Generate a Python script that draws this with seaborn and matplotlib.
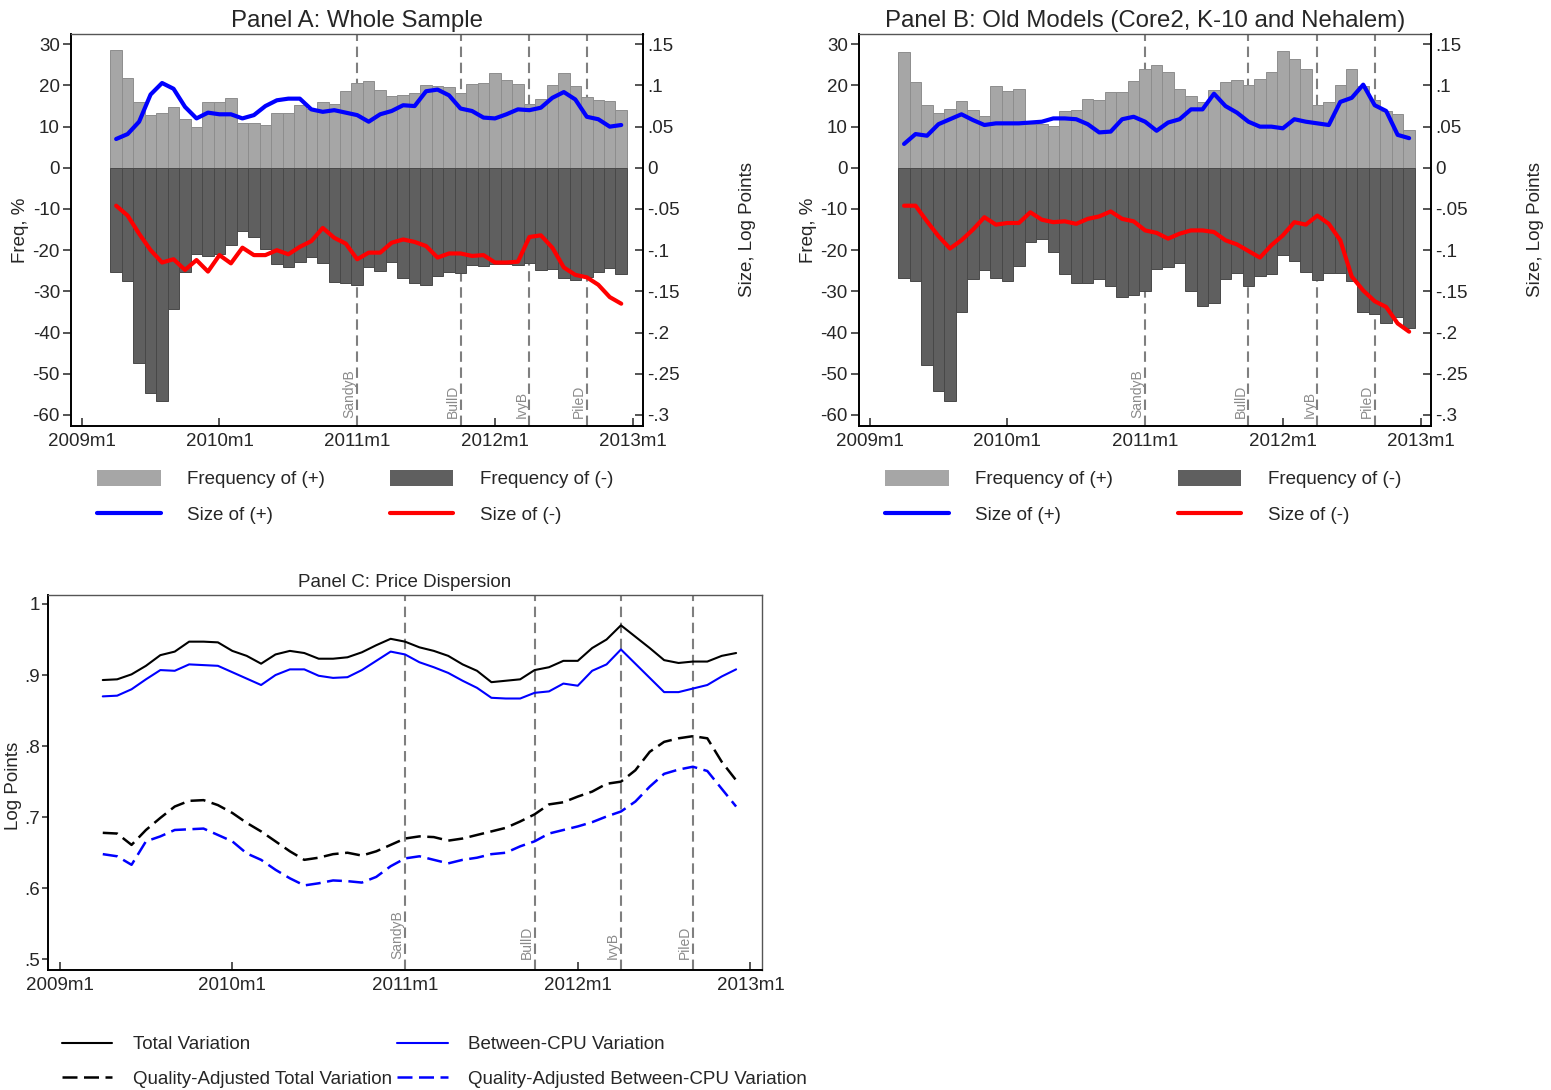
import numpy as np
import pandas as pd
import matplotlib
matplotlib.use('Agg')
import matplotlib.pyplot as plt
import matplotlib.transforms as mtransforms
from matplotlib.patches import Patch
from matplotlib.lines import Line2D
import seaborn as sns

# ---- data -------------------------------------------------------------
month_labels = pd.period_range('2009-04', '2012-12', freq='M')

year_ticks = ['2009-01', '2010-01', '2011-01', '2012-01', '2013-01']
year_tick_labels = ['2009m1', '2010m1', '2011m1', '2012m1', '2013m1']

events = ['SandyB', 'BullD', 'IvyB', 'PileD']
event_dates = ['2011-01', '2011-10', '2012-04', '2012-09']

# Panel A: whole sample
freq_pos_a = [28.6, 21.8, 16.1, 12.9, 13.3, 14.7, 11.9, 10.0, 16.0, 16.1,
              17.0, 10.8, 10.8, 10.3, 13.3, 13.3, 15.2, 14.3, 16.1, 15.6,
              18.6, 20.5, 21.1, 18.8, 17.4, 17.7, 18.2, 20.2, 19.8, 19.6,
              18.1, 20.4, 20.6, 23.1, 21.3, 20.4, 15.6, 16.7, 20.2, 23.0,
              19.8, 17.1, 16.5, 16.2, 14.1]
freq_neg_a = [-25.4, -27.4, -47.4, -54.6, -56.7, -34.3, -25.4, -20.9, -21.5, -20.9,
              -18.7, -15.3, -16.8, -19.7, -23.4, -24.2, -22.8, -21.7, -23.0, -27.8,
              -28.0, -28.5, -24.2, -25.0, -22.8, -26.7, -27.9, -28.5, -26.2, -25.2,
              -25.6, -23.6, -23.8, -23.4, -23.3, -23.6, -23.0, -24.8, -24.6, -26.7,
              -27.2, -26.6, -25.4, -24.4, -25.9]
size_pos_a = [.035, .041, .056, .089, .103, .096, .074, .060, .067, .065,
              .065, .060, .064, .075, .082, .084, .084, .071, .068, .070,
              .067, .064, .056, .065, .069, .076, .075, .093, .095, .088,
              .072, .069, .061, .060, .065, .071, .070, .073, .085, .092,
              .083, .062, .059, .050, .052]
size_neg_a = [-.046, -.058, -.080, -.100, -.115, -.111, -.124, -.112, -.126, -.106,
              -.116, -.097, -.106, -.106, -.100, -.105, -.096, -.089, -.073, -.085,
              -.092, -.111, -.103, -.103, -.091, -.087, -.090, -.095, -.109, -.104,
              -.104, -.107, -.106, -.115, -.115, -.114, -.084, -.082, -.097, -.121,
              -.130, -.133, -.142, -.157, -.165]

# Panel B: old models
freq_pos_b = [28.2, 20.9, 15.3, 13.3, 14.3, 16.3, 14.1, 12.5, 19.8, 18.6,
              19.2, 10.6, 10.6, 10.2, 13.7, 14.1, 16.8, 16.4, 18.4, 18.4,
              21.2, 24.1, 24.9, 23.2, 19.2, 17.5, 16.1, 18.8, 20.8, 21.4,
              20.2, 21.6, 23.2, 28.4, 26.5, 24.1, 15.3, 16.1, 20.2, 23.9,
              19.8, 16.4, 13.7, 13.0, 9.2]
freq_neg_b = [-26.7, -27.6, -48.0, -54.1, -56.7, -35.1, -27.1, -24.8, -26.7, -27.4,
              -23.8, -18.1, -17.2, -20.5, -25.8, -28.0, -27.9, -27.0, -28.7, -31.3,
              -30.9, -29.9, -24.6, -24.2, -23.0, -29.9, -33.5, -32.8, -27.1, -25.6,
              -28.6, -26.3, -25.9, -21.1, -22.6, -25.4, -27.2, -25.6, -25.6, -27.6,
              -35.1, -35.4, -37.6, -36.2, -39.0]
size_pos_b = [.029, .041, .039, .053, .059, .065, .058, .052, .054, .054,
              .054, .055, .056, .060, .060, .059, .053, .043, .044, .059,
              .062, .056, .045, .055, .059, .071, .071, .090, .075, .067,
              .056, .050, .050, .048, .059, .056, .054, .052, .080, .085,
              .101, .076, .069, .040, .036]
size_neg_b = [-.046, -.046, -.065, -.083, -.098, -.088, -.075, -.060, -.069, -.067,
              -.067, -.054, -.063, -.066, -.065, -.068, -.062, -.059, -.053, -.062,
              -.065, -.076, -.079, -.086, -.080, -.076, -.076, -.078, -.088, -.093,
              -.101, -.109, -.094, -.082, -.066, -.069, -.058, -.068, -.088, -.132,
              -.149, -.162, -.169, -.189, -.199]

freq_ticks = [30, 20, 10, 0, -10, -20, -30, -40, -50, -60]
size_ticks = [.15, .1, .05, 0, -.05, -.1, -.15, -.2, -.25, -.3]
size_tick_labels = ['.15', '.1', '.05', '0', '-.05', '-.1', '-.15', '-.2', '-.25', '-.3']

# Panel C: price dispersion
total_var = [0.893, 0.894, 0.901, 0.913, 0.928, 0.933, 0.947, 0.947, 0.946, 0.934,
             0.927, 0.916, 0.929, 0.934, 0.931, 0.923, 0.923, 0.925, 0.932, 0.942,
             0.951, 0.947, 0.939, 0.934, 0.927, 0.915, 0.906, 0.890, 0.892, 0.894,
             0.907, 0.911, 0.920, 0.920, 0.938, 0.950, 0.970, 0.954, 0.938, 0.921,
             0.917, 0.919, 0.919, 0.927, 0.931]
between_var = [0.870, 0.871, 0.880, 0.894, 0.907, 0.906, 0.915, 0.914, 0.913, 0.904,
               0.895, 0.886, 0.900, 0.908, 0.908, 0.899, 0.896, 0.897, 0.907, 0.920,
               0.933, 0.929, 0.918, 0.911, 0.903, 0.892, 0.882, 0.868, 0.867, 0.867,
               0.875, 0.877, 0.888, 0.885, 0.906, 0.915, 0.936, 0.916, 0.896, 0.876,
               0.876, 0.881, 0.886, 0.898, 0.908]
adj_total_var = [0.678, 0.677, 0.661, 0.682, 0.699, 0.715, 0.723, 0.724, 0.717, 0.706,
                 0.692, 0.680, 0.666, 0.652, 0.640, 0.643, 0.648, 0.650, 0.646, 0.652,
                 0.661, 0.670, 0.673, 0.672, 0.667, 0.670, 0.675, 0.680, 0.685, 0.694,
                 0.704, 0.718, 0.721, 0.729, 0.736, 0.747, 0.750, 0.766, 0.792, 0.806,
                 0.811, 0.814, 0.811, 0.778, 0.752]
adj_between_var = [0.648, 0.645, 0.633, 0.666, 0.673, 0.682, 0.683, 0.684, 0.675, 0.666,
                   0.649, 0.640, 0.626, 0.614, 0.604, 0.607, 0.611, 0.610, 0.608, 0.616,
                   0.631, 0.642, 0.645, 0.640, 0.635, 0.640, 0.643, 0.648, 0.650, 0.659,
                   0.666, 0.677, 0.682, 0.687, 0.693, 0.701, 0.708, 0.722, 0.743, 0.761,
                   0.767, 0.771, 0.765, 0.740, 0.715]
logpt_ticks = [1, .9, .8, .7, .6, .5]
logpt_tick_labels = ['1', '.9', '.8', '.7', '.6', '.5']


def month_num(p):
    p = pd.Period(p, freq='M')
    return (p.year - 2009) * 12 + p.month - 1


months = np.array([month_num(p) for p in month_labels])
year_pos = [month_num(p) for p in year_ticks]
event_pos = [month_num(p) for p in event_dates]

# ---- style ------------------------------------------------------------
sns.set_style('ticks')
plt.rcParams['font.family'] = ['Liberation Sans', 'DejaVu Sans']
FS = 13.5
LIGHT, DARK = '#a6a6a6', '#5f5f5f'
VLINE = '#7f7f7f'

fig = plt.figure(figsize=(15.51, 10.90), dpi=100)


def event_lines(ax, label_y):
    trans = mtransforms.blended_transform_factory(ax.transData, ax.transAxes)
    for name, m in zip(events, event_pos):
        ax.axvline(m, color=VLINE, lw=1.5, ls=(0, (5, 2.7)), zorder=1)
        ax.text(m - 0.05, label_y, name, transform=trans, rotation=90, ha='right',
                va='bottom', fontsize=10, color='#8a8a8a', zorder=3)


def style_xaxis(ax):
    ax.set_xticks(year_pos)
    ax.set_xticklabels(year_tick_labels)
    ax.tick_params(axis='x', direction='in', length=6, width=1.1, labelsize=FS, pad=5)


def freq_panel(rect, title, fpos, fneg, spos, sneg):
    ax = fig.add_axes(rect)
    event_lines(ax, 0.02)
    sns.barplot(x=months, y=fpos, ax=ax, native_scale=True, width=1, color=LIGHT,
                saturation=1, edgecolor='#8d8d8d', linewidth=0.7, errorbar=None, zorder=2)
    sns.barplot(x=months, y=fneg, ax=ax, native_scale=True, width=1, color=DARK,
                saturation=1, edgecolor='#484848', linewidth=0.7, errorbar=None, zorder=2)
    ax.set_xlim(-0.93, 48.9)
    ax.set_ylim(-62.7, 32.5)
    ax.set_yticks(freq_ticks)
    ax.set_yticklabels([str(t) for t in freq_ticks])
    ax.tick_params(axis='y', direction='out', length=6, width=1.1, labelsize=FS, pad=2)
    style_xaxis(ax)
    ax.set_ylabel('Freq, %', fontsize=FS)
    ax.yaxis.set_label_coords(-0.073, 0.5)
    ax.set_xlabel('')
    ax.set_title(title, fontsize=17.3, pad=5)
    for s in ['left', 'bottom']:
        ax.spines[s].set_linewidth(1.4)
        ax.spines[s].set_color('black')
    ax.spines['top'].set_linewidth(1.0)
    ax.spines['top'].set_color('#555555')
    ax.spines['right'].set_visible(False)

    ax2 = ax.twinx()
    sns.lineplot(x=months, y=spos, ax=ax2, color='#0000ff', lw=3)
    sns.lineplot(x=months, y=sneg, ax=ax2, color='#ff0000', lw=3)
    ax2.set_ylim(-62.7 / 200, 32.5 / 200)
    ax2.set_yticks(size_ticks)
    ax2.set_yticklabels(size_tick_labels)
    ax2.tick_params(axis='y', direction='in', length=6, width=1.1, labelsize=FS, pad=3)
    ax2.set_ylabel('Size, Log Points', fontsize=FS)
    ax2.yaxis.set_label_coords(1.168, 0.5)
    for s in ['left', 'top', 'bottom']:
        ax2.spines[s].set_visible(False)
    ax2.spines['right'].set_linewidth(1.4)
    ax2.spines['right'].set_color('black')
    return ax


def freq_legend(x0):
    handles = [Patch(facecolor=LIGHT, edgecolor='none'),
               Line2D([], [], color='#0000ff', lw=3),
               Patch(facecolor=DARK, edgecolor='none'),
               Line2D([], [], color='#ff0000', lw=3)]
    labels = ['Frequency of (+)', 'Size of (+)', 'Frequency of (-)', 'Size of (-)']
    fig.legend(handles, labels, loc='upper left', bbox_to_anchor=(x0, 0.5688),
               ncol=2, frameon=False, fontsize=FS, borderpad=0, borderaxespad=0,
               handlelength=3.4, handleheight=0.9, handletextpad=1.4,
               columnspacing=3.45, labelspacing=0.94)


freq_panel([0.0458, 0.6092, 0.3688, 0.3596], 'Panel A: Whole Sample',
           freq_pos_a, freq_neg_a, size_pos_a, size_neg_a)
freq_panel([0.5538, 0.6092, 0.3688, 0.3596], 'Panel B: Old Models (Core2, K-10 and Nehalem)',
           freq_pos_b, freq_neg_b, size_pos_b, size_neg_b)
freq_legend(0.0625)
freq_legend(0.5706)

# ---- Panel C ----------------------------------------------------------
axc = fig.add_axes([0.0309, 0.1101, 0.4604, 0.344])
event_lines(axc, 0.03)
DASH = (0, (6, 2.6))
sns.lineplot(x=months, y=total_var, ax=axc, color='black', lw=1.5)
sns.lineplot(x=months, y=between_var, ax=axc, color='#0000ff', lw=1.5)
sns.lineplot(x=months, y=adj_total_var, ax=axc, color='black', lw=1.8, linestyle=DASH)
sns.lineplot(x=months, y=adj_between_var, ax=axc, color='#0000ff', lw=1.8, linestyle=DASH)
axc.set_xlim(-0.81, 48.8)
axc.set_ylim(0.485, 1.0126)
axc.set_yticks(logpt_ticks)
axc.set_yticklabels(logpt_tick_labels)
axc.tick_params(axis='y', direction='out', length=4, width=1.1, labelsize=FS, pad=2)
style_xaxis(axc)
axc.set_ylabel('Log Points', fontsize=FS)
axc.yaxis.set_label_coords(-0.036, 0.49)
axc.set_xlabel('')
axc.set_title('Panel C: Price Dispersion', fontsize=FS, pad=6)
for s in ['left', 'bottom']:
    axc.spines[s].set_linewidth(1.4)
    axc.spines[s].set_color('black')
for s in ['top', 'right']:
    axc.spines[s].set_linewidth(1.0)
    axc.spines[s].set_color('#555555')

c_handles = [Line2D([], [], color='black', lw=1.5),
             Line2D([], [], color='black', lw=1.8, linestyle=DASH),
             Line2D([], [], color='#0000ff', lw=1.5),
             Line2D([], [], color='#0000ff', lw=1.8, linestyle=DASH)]
c_labels = ['Total Variation', 'Quality-Adjusted Total Variation',
            'Between-CPU Variation', 'Quality-Adjusted Between-CPU Variation']
fig.legend(c_handles, c_labels, loc='upper left', bbox_to_anchor=(0.040, 0.0495),
           ncol=2, frameon=False, fontsize=FS, borderpad=0, borderaxespad=0,
           handlelength=2.67, handletextpad=1.1, columnspacing=0.3, labelspacing=0.92)

fig.savefig('out.png', dpi=100)
